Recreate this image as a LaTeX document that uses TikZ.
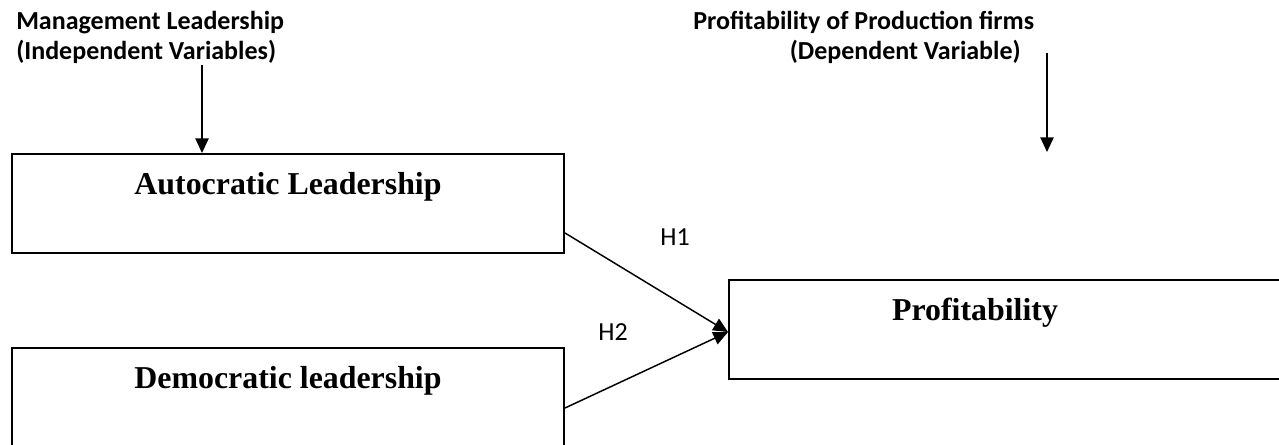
\documentclass[tikz,border=0pt]{standalone}
\usepackage{fontspec}
\setmainfont{Liberation Serif}
\newfontfamily\calibri{Carlito}
\usetikzlibrary{arrows.meta}

\begin{document}
\begin{tikzpicture}[x=0.75pt, y=-0.75pt, > = {Triangle[length=11pt,width=10pt]},
    varbox/.style = {draw, line width=1.5pt, anchor=north west, minimum width=414pt, inner sep=0pt, text height=30.75pt, text depth=43.5pt, font=\fontsize{23.9}{28}\selectfont\bfseries},
    heading/.style = {inner sep=0pt, font=\calibri\fontsize{19.5}{23}\selectfont\bfseries},
    hyp/.style = {inner sep=0pt, font=\calibri\fontsize{19.5}{23}\selectfont},
    link/.style = {line width=1.1pt, ->}]

    \useasboundingbox (0,0) rectangle (1279,445);
    \clip (0,0) rectangle (1279,445);

    % headings
    \node[heading, anchor=base west] (mgmt) at (16,30) {Management Leadership};
    \node[heading, anchor=base west] (indep) at (16,60) {(Independent Variables)};
    \node[heading, anchor=base west] (prodfirms) at (693,30) {Profitability of Production firms};
    \node[heading, anchor=base east] (dep) at (1021,60) {(Dependent Variable)};

    % variables
    \node[varbox] (auto) at (11,153) {Autocratic Leadership};
    \node[varbox] (demo) at (11,347) {Democratic leadership};
    \node[varbox] (profit) at (728,279) {Profitability\hspace*{45pt}};

    % hypotheses
    \node[hyp] (h1) at (675,237) {H1};
    \node[hyp] (h2) at (613,332) {H2};

    % arrows
    \coordinate (indtop) at (202,65);
    \coordinate (deptop) at (1047,53);
    \coordinate (depend) at (1047,152);
    \draw[link] (indtop) -- (indtop |- auto.north);
    \draw[link] (deptop) -- (depend);
    \draw[link] ([yshift=15.75pt]auto.south east) -- ([yshift=-1.9pt]profit.west);
    \draw[link] ([yshift=-45.75pt]demo.north east) -- ([yshift=-1.9pt]profit.west);

\end{tikzpicture}
\end{document}
